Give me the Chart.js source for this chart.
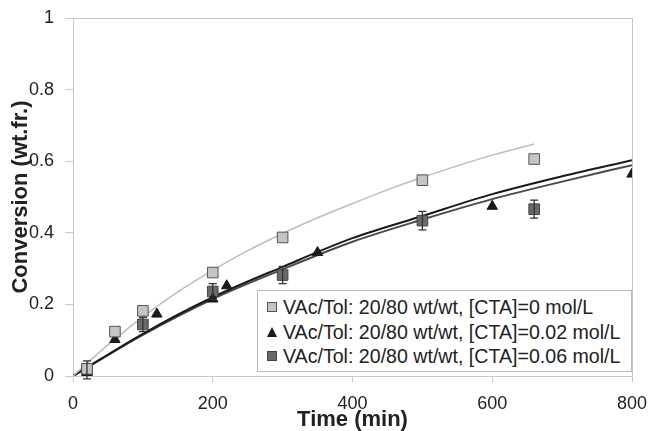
<!DOCTYPE html>
<html>
<head>
<meta charset="utf-8">
<script src="https://cdn.jsdelivr.net/npm/chart.js@4/dist/chart.umd.min.js"></script>
<style>
  body { margin: 0; background: #fff; }
  #wrap { position: relative; width: 650px; height: 431px; }
  #legendBox {
    position: absolute; left: 257px; top: 290px; width: 373px; height: 80px;
    border: 1px solid #bbb; background: #fff;
    font-family: "Liberation Sans", Arial, sans-serif; font-size: 19.6px; color: #222;
  }
  .row { position: absolute; left: 9px; height: 22px; line-height: 22px; white-space: nowrap; }
  .mk { display: inline-block; vertical-align: middle; margin-right: 6px; position: relative; top: -2px; }
  .sq1 { width: 8px; height: 8px; background: #c4c4c4; border: 1px solid #555; }
  .sq3 { width: 8px; height: 8px; background: #6a6a6a; border: 1px solid #444; }
  .tri { width: 0; height: 0; border-left: 5px solid transparent; border-right: 5px solid transparent; border-bottom: 10px solid #1a1a1a; }
</style>
</head>
<body>
<div id="wrap">
  <canvas id="convChart" width="650" height="431"></canvas>
  <div id="legendBox">
    <div class="row" style="top:5px"><span class="mk sq1"></span>VAc/Tol: 20/80 wt/wt, [CTA]=0 mol/L</div>
    <div class="row" style="top:30px"><span class="mk tri"></span>VAc/Tol: 20/80 wt/wt, [CTA]=0.02 mol/L</div>
    <div class="row" style="top:54px"><span class="mk sq3"></span>VAc/Tol: 20/80 wt/wt, [CTA]=0.06 mol/L</div>
  </div>
</div>
<script>
// measured points
const cta0Time = [20, 60, 100, 200, 300, 500, 660];
const cta0Conv = [0.02, 0.124, 0.182, 0.289, 0.387, 0.547, 0.606];

const cta002Time = [20, 60, 120, 200, 220, 350, 600, 800];
const cta002Conv = [0.01, 0.102, 0.173, 0.215, 0.252, 0.345, 0.474, 0.564];

const cta006Time = [20, 100, 200, 300, 500, 660];
const cta006Conv = [0.017, 0.144, 0.236, 0.282, 0.434, 0.466];
const cta006Err  = [0.025, 0.02, 0.022, 0.024, 0.026, 0.025];

// model curves
const fit0Time = [0, 50, 100, 150, 200, 250, 300, 350, 400, 450, 500, 550, 600, 660];
const fit0Conv = [0, 0.087, 0.165, 0.235, 0.295, 0.35, 0.398, 0.442, 0.482, 0.52, 0.555, 0.587, 0.617, 0.648];

const fitTime = [0, 100, 200, 300, 400, 500, 600, 700, 800];
const fit002Conv = [0, 0.118, 0.22, 0.305, 0.385, 0.447, 0.508, 0.558, 0.603];
const fit006Conv = [0, 0.115, 0.215, 0.298, 0.375, 0.437, 0.494, 0.543, 0.589];

const xTicks = [0, 200, 400, 600, 800];
const yTicks = [0, 0.2, 0.4, 0.6, 0.8, 1];

function pts(xs, ys) { return xs.map((x, i) => ({ x: x, y: ys[i] })); }

// frame around plot + error bars
const framePlugin = {
    id: 'frame',
    beforeDatasetsDraw(chart) {
        const a = chart.chartArea, c = chart.ctx;
        c.save();
        c.strokeStyle = '#c8c8c8';
        c.lineWidth = 1;
        c.strokeRect(a.left + 0.5, a.top + 0.5, a.right - a.left, a.bottom - a.top);
        c.restore();
    },
    afterDatasetsDraw(chart) {
        const c = chart.ctx, xs = chart.scales.x, ys = chart.scales.y;
        c.save();
        c.strokeStyle = '#333';
        c.lineWidth = 1.3;
        cta006Time.forEach((t, i) => {
            const px = xs.getPixelForValue(t);
            const y1 = ys.getPixelForValue(cta006Conv[i] + cta006Err[i]);
            const y2 = ys.getPixelForValue(cta006Conv[i] - cta006Err[i]);
            c.beginPath();
            c.moveTo(px, y1); c.lineTo(px, y2);
            c.moveTo(px - 4, y1); c.lineTo(px + 4, y1);
            c.moveTo(px - 4, y2); c.lineTo(px + 4, y2);
            c.stroke();
        });
        c.restore();
    }
};

const tickFont = { family: '"Liberation Sans", Arial, sans-serif', size: 18 };
const titleFont = { family: '"Liberation Sans", Arial, sans-serif', size: 22, weight: 'bold', lineHeight: 1 };

new Chart(document.getElementById('convChart').getContext('2d'), {
    type: 'scatter',
    data: {
        datasets: [
            { type: 'line', data: pts(fit0Time, fit0Conv), borderColor: '#bdbdbd', borderWidth: 1.5,
              pointRadius: 0, cubicInterpolationMode: 'monotone', order: 5 },
            { type: 'line', data: pts(fitTime, fit002Conv), borderColor: '#1a1a1a', borderWidth: 2,
              pointRadius: 0, cubicInterpolationMode: 'monotone', order: 5 },
            { type: 'line', data: pts(fitTime, fit006Conv), borderColor: '#4a4a4a', borderWidth: 2,
              pointRadius: 0, cubicInterpolationMode: 'monotone', order: 5 },
            { data: pts(cta006Time, cta006Conv), pointStyle: 'rect', pointRadius: 7.5,
              backgroundColor: '#6a6a6a', borderColor: '#444', borderWidth: 1, order: 3 },
            { data: pts(cta002Time, cta002Conv), pointStyle: 'triangle', pointRadius: 6,
              backgroundColor: '#1a1a1a', borderColor: '#1a1a1a', borderWidth: 1, order: 2 },
            { data: pts(cta0Time, cta0Conv), pointStyle: 'rect', pointRadius: 7.5,
              backgroundColor: '#c4c4c4', borderColor: '#555', borderWidth: 1, order: 1 }
        ]
    },
    options: {
        responsive: false,
        animation: false,
        layout: { padding: { left: 0, right: 18, top: 18, bottom: 0 } },
        plugins: { legend: { display: false }, tooltip: { enabled: false } },
        scales: {
            x: {
                type: 'linear', min: 0, max: 800,
                afterBuildTicks: s => { s.ticks = xTicks.map(v => ({ value: v })); },
                afterFit: s => { s.height = 55; s.paddingLeft = 0; s.paddingRight = 0; },
                grid: { drawOnChartArea: false, tickLength: 6, color: '#c8c8c8' },
                border: { color: '#c8c8c8' },
                ticks: { font: tickFont, color: '#222', padding: 11, maxRotation: 0 },
                title: { display: true, text: 'Time (min)', font: titleFont, color: '#222',
                         padding: { top: 0, bottom: 0 } }
            },
            y: {
                type: 'linear', min: 0, max: 1,
                afterBuildTicks: s => { s.ticks = yTicks.map(v => ({ value: v })); },
                afterFit: s => { s.width = 73; s.paddingTop = 0; s.paddingBottom = 0; },
                grid: { drawOnChartArea: false, tickLength: 8, color: '#c8c8c8' },
                border: { color: '#c8c8c8' },
                ticks: { font: tickFont, color: '#222', padding: 11,
                         callback: v => String(+v.toFixed(1)) },
                title: { display: true, text: 'Conversion (wt.fr.)', font: titleFont, color: '#222',
                         padding: { top: 10, bottom: 0 } }
            }
        }
    },
    plugins: [framePlugin]
});
</script>
</body>
</html>
